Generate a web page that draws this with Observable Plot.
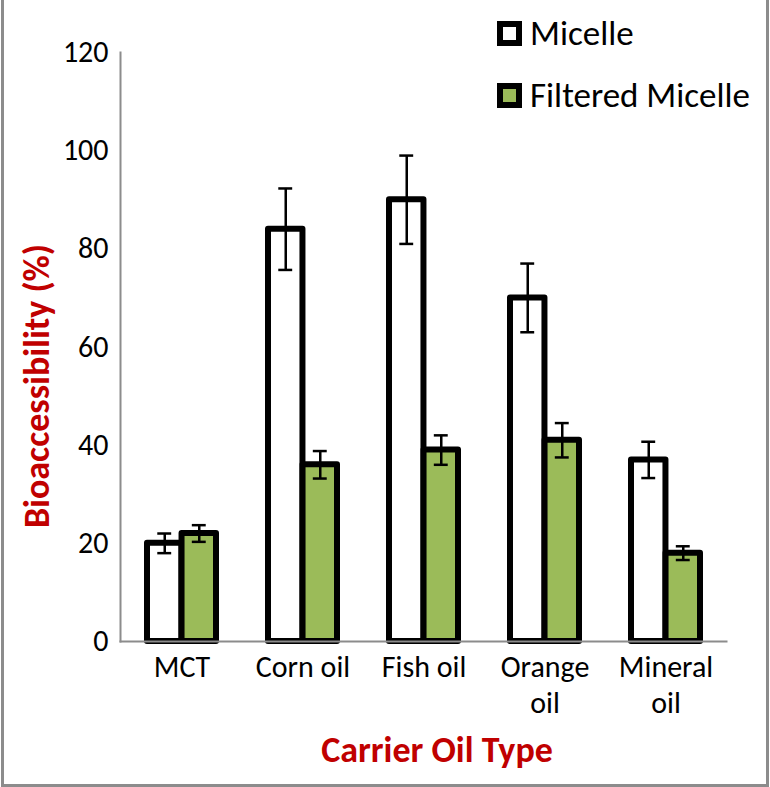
<!DOCTYPE html>
<html>
<head>
<meta charset="utf-8">
<script src="https://cdn.jsdelivr.net/npm/d3@7"></script>
<script src="https://cdn.jsdelivr.net/npm/@observablehq/plot@0.6"></script>
<style>
  body { margin: 0; background: #fff; }
  #wrap { position: relative; width: 770px; height: 787px; overflow: hidden; font-family: Carlito, Lato, sans-serif; }
  #frame { position: absolute; left: 1px; top: -10px; width: 762px; height: 791px; border: 3px solid #8c8c8c; box-sizing: content-box; pointer-events: none; }
  .leg { position: absolute; left: 497px; display: flex; align-items: center; font-size: 35px; color: #000; }
  .sw { width: 13px; height: 13px; border: 6px solid #000; margin-right: 8px; }
  .ytitle { position: absolute; left: 37px; top: 386px; transform: translate(-50%, -50%) rotate(-90deg); white-space: nowrap; font-weight: bold; font-size: 36px; color: #c00000; }
  .xtitle { position: absolute; left: 437px; top: 750px; transform: translate(-50%, -50%); white-space: nowrap; font-weight: bold; font-size: 36px; color: #c00000; }
</style>
</head>
<body>
<div id="wrap">
  <div id="chart"></div>
  <div class="leg" style="top:12px"><div class="sw" style="background:#fff"></div>Micelle</div>
  <div class="leg" style="top:74px"><div class="sw" style="background:#9bbb59"></div>Filtered Micelle</div>
  <div class="ytitle">Bioaccessibility (%)</div>
  <div class="xtitle">Carrier Oil Type</div>
  <div id="frame"></div>
</div>
<script>
const categories = ["MCT", "Corn oil", "Fish oil", "Orange oil", "Mineral oil"];
const tickLabels = ["MCT", "Corn oil", "Fish oil", "Orange\noil", "Mineral\noil"];
const micelle = [20, 84, 90, 70, 37];
const micelleErr = [2, 8.3, 9, 7, 3.7];
const filtered = [22, 36, 39, 41, 18];
const filteredErr = [1.7, 2.8, 3, 3.5, 1.4];
const yTicks = [0, 20, 40, 60, 80, 100, 120];

const W = 770, H = 787, mL = 120, mR = 44, mT = 52, mB = 146;
const padIn = 0.43;
const step = (W - mL - mR) / categories.length;
const bw = step * (1 - padIn);
const half = bw / 2, q = bw / 4, cap = 7;

const mData = categories.map((c, i) => ({cat: c, v: micelle[i], e: micelleErr[i]}));
const fData = categories.map((c, i) => ({cat: c, v: filtered[i], e: filteredErr[i]}));

const chart = Plot.plot({
  width: W, height: H,
  marginLeft: mL, marginRight: mR, marginTop: mT, marginBottom: mB,
  style: {fontFamily: "Carlito, Lato, sans-serif", fontSize: "30px", color: "#000", background: "transparent"},
  x: {domain: categories, paddingInner: padIn, paddingOuter: padIn / 2, label: null},
  y: {domain: [0, 120], label: null},
  marks: [
    Plot.barY(mData, {x: "cat", y: "v", insetRight: half, fill: "#fff", stroke: "#000", strokeWidth: 6, strokeLinejoin: "round"}),
    Plot.barY(fData, {x: "cat", y: "v", insetLeft: half, fill: "#9bbb59", stroke: "#000", strokeWidth: 6, strokeLinejoin: "round"}),
    Plot.ruleX(mData, {x: "cat", y1: d => d.v - d.e, y2: d => d.v + d.e, dx: -q, stroke: "#000", strokeWidth: 2.5}),
    Plot.ruleX(fData, {x: "cat", y1: d => d.v - d.e, y2: d => d.v + d.e, dx: q, stroke: "#000", strokeWidth: 2.5}),
    Plot.tickY(mData, {x: "cat", y: d => d.v + d.e, insetLeft: q - cap, insetRight: bw - q - cap, stroke: "#000", strokeWidth: 2.5}),
    Plot.tickY(mData, {x: "cat", y: d => d.v - d.e, insetLeft: q - cap, insetRight: bw - q - cap, stroke: "#000", strokeWidth: 2.5}),
    Plot.tickY(fData, {x: "cat", y: d => d.v + d.e, insetLeft: half + q - cap, insetRight: q - cap, stroke: "#000", strokeWidth: 2.5}),
    Plot.tickY(fData, {x: "cat", y: d => d.v - d.e, insetLeft: half + q - cap, insetRight: q - cap, stroke: "#000", strokeWidth: 2.5}),
    Plot.frame({anchor: "left", stroke: "#8c8c8c", strokeWidth: 2}),
    Plot.frame({anchor: "bottom", stroke: "#8c8c8c", strokeWidth: 2}),
    Plot.axisY({ticks: yTicks, tickSize: 0, tickPadding: 12, label: null, fontSize: 30}),
    Plot.axisX({tickFormat: (d, i) => tickLabels[categories.indexOf(d)], tickSize: 0, tickPadding: 10, label: null, fontSize: 30, lineHeight: 1.2})
  ]
});
document.getElementById("chart").appendChild(chart);
</script>
</body>
</html>
